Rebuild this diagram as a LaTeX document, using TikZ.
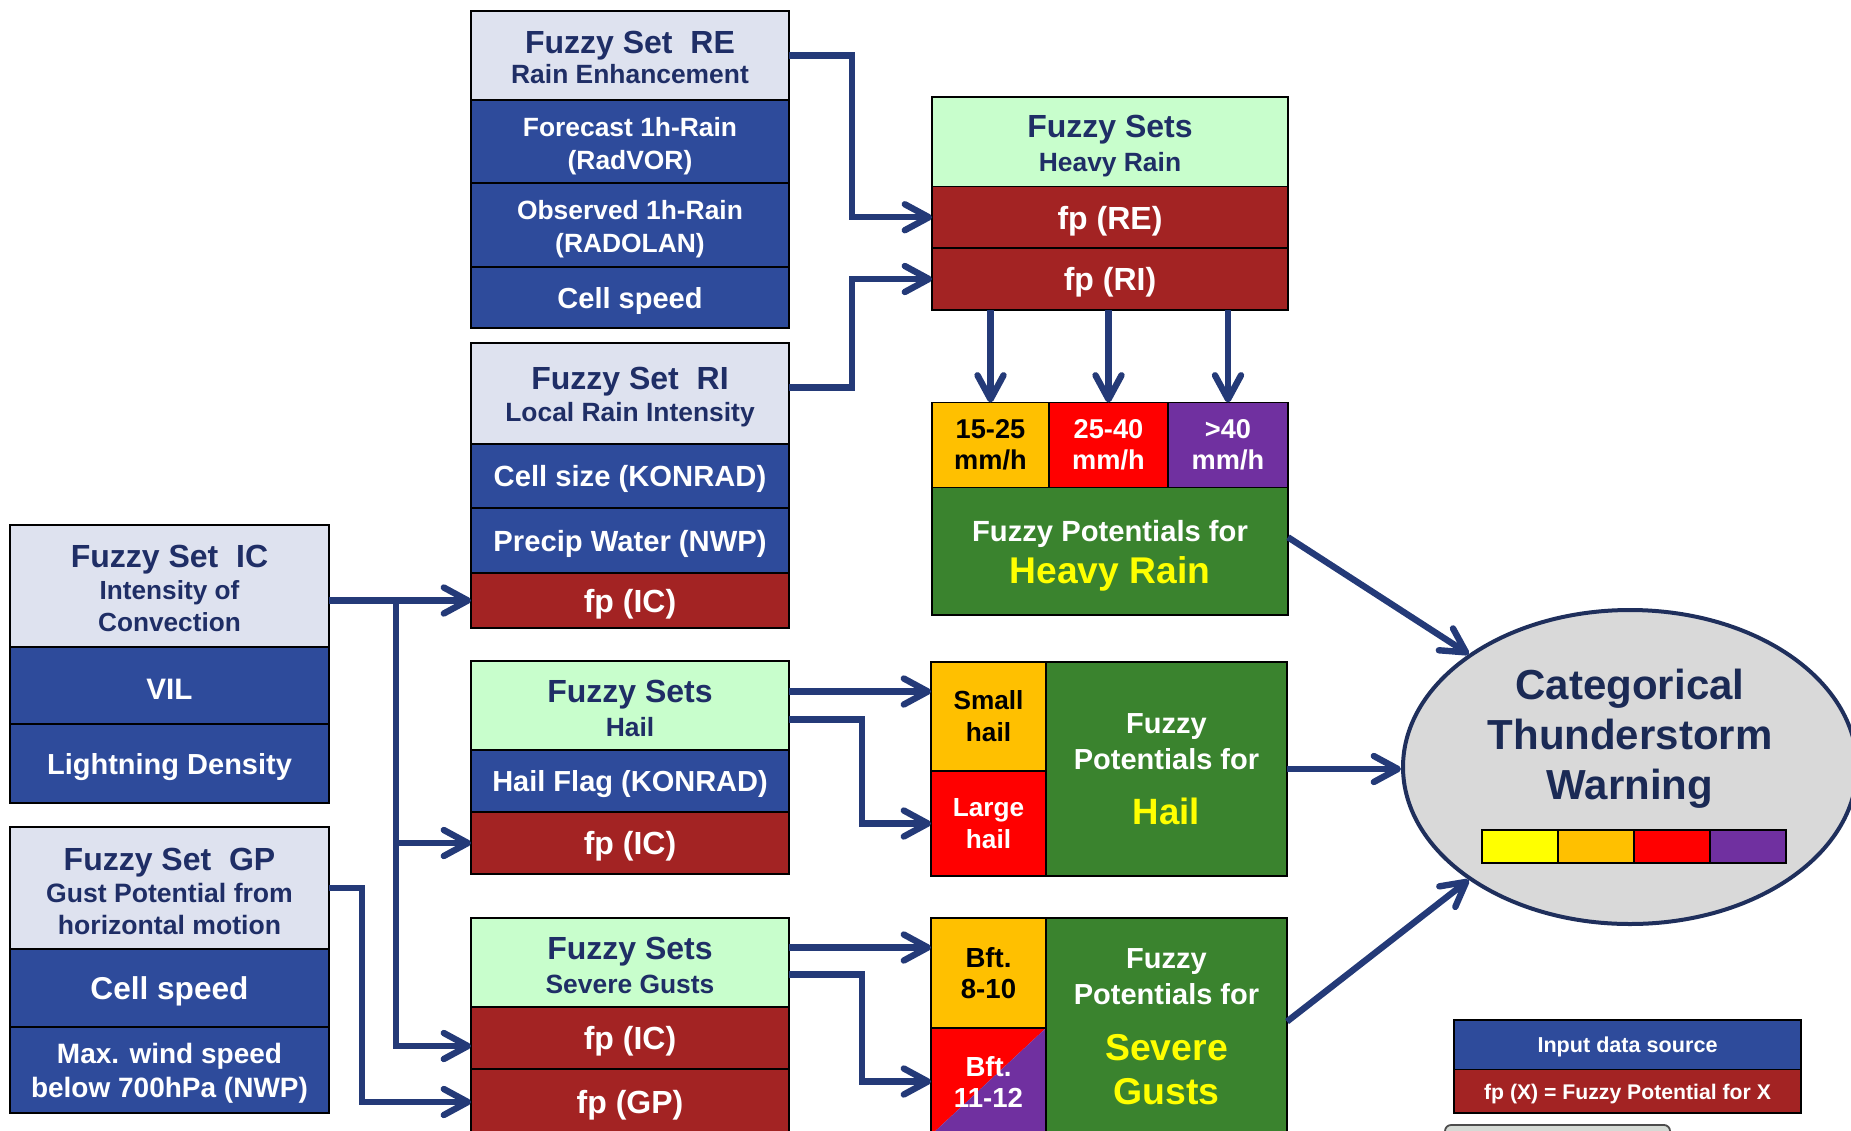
\documentclass[tikz,border=0pt]{standalone}
\usepackage{fontspec}
\setmainfont{Liberation Sans}
\usetikzlibrary{arrows.meta,shapes.geometric,backgrounds}
\definecolor{hdrgray}{HTML}{DEE2EF}
\definecolor{hdrgreen}{HTML}{C8FECC}
\definecolor{inblue}{HTML}{2E4B9B}
\definecolor{fpred}{HTML}{A32323}
\definecolor{potgreen}{HTML}{3A832E}
\definecolor{corange}{HTML}{FFC000}
\definecolor{cred}{HTML}{FF0000}
\definecolor{cpurple}{HTML}{7030A0}
\definecolor{cyellow}{HTML}{FFFF00}
\definecolor{navytext}{HTML}{1F2E66}
\definecolor{arrcol}{HTML}{243A78}
\definecolor{ellfill}{HTML}{D9D9D9}
\definecolor{ellborder}{HTML}{1F2F5C}
\definecolor{elltext}{HTML}{1B2A55}
\definecolor{slvfill}{HTML}{D5DAD5}
\newcommand\fs[2]{\fontsize{#1}{#2}\selectfont}
\newcommand\pad[1]{\rule{0pt}{#1}}
\begin{document}
\begin{tikzpicture}[x=0.5pt,y=-0.5pt,
  cell/.style={draw=black,line width=0.9pt,anchor=north west,inner sep=0pt,outer sep=0pt,align=center,
    execute at begin node={\rule{0pt}{0.95em}}},
  hdr/.style={cell,fill=hdrgray,text=navytext},
  ghdr/.style={cell,fill=hdrgreen,text=navytext},
  inp/.style={cell,fill=inblue,text=white},
  fpc/.style={cell,fill=fpred,text=white,font=\bfseries\fs{16}{18}},
  pot/.style={cell,fill=potgreen,text=white},
  arr/.style={draw=arrcol,line width=3.2pt,-{Straight Barb[length=12pt,width=13pt,round]}},
  wcol/.style={minimum width=159pt},
  hcol/.style={minimum width=178pt},
]
\useasboundingbox (0,0) rectangle (1851,1130);

% ---------- RE ----------
\node[hdr,wcol,minimum height=44.5pt,font=\bfseries\fs{13.2}{15}] (REh) at (471,11) {{\fs{16}{15}\pad{13.5pt}Fuzzy Set\ \ RE}\\Rain Enhancement};
\node[inp,wcol,minimum height=41.5pt,font=\bfseries\fs{13.2}{16.5}] (REf) at (471,100) {\pad{14.4pt}Forecast 1h-Rain\\(RadVOR)};
\node[inp,wcol,minimum height=42pt,font=\bfseries\fs{13.2}{16.5}] (REo) at (471,183) {\pad{14pt}Observed 1h-Rain\\(RADOLAN)};
\node[inp,wcol,minimum height=30.5pt,font=\bfseries\fs{14.5}{16}] (REc) at (471,267) {Cell speed};

% ---------- RI ----------
\node[hdr,wcol,minimum height=50.5pt,font=\bfseries\fs{13.2}{16}] (RIh) at (471,343) {{\fs{16}{16}\pad{15pt}Fuzzy Set\ \ RI}\\Local Rain Intensity};
\node[inp,wcol,minimum height=32pt,font=\bfseries\fs{14.6}{16}] (RIs) at (471,444) {Cell size (KONRAD)};
\node[inp,wcol,minimum height=32.5pt,font=\bfseries\fs{14.6}{16}] (RIp) at (471,508) {Precip Water (NWP)};
\node[fpc,wcol,minimum height=27.5pt] (RIfp) at (471,573) {fp (IC)};

% ---------- IC ----------
\node[hdr,minimum width=159.5pt,minimum height=61pt,font=\bfseries\fs{13.1}{16}] (ICh) at (10,525) {{\fs{16}{16}\pad{13.8pt}Fuzzy Set\ \ IC}\\Intensity of\\Convection};
\node[inp,minimum width=159.5pt,minimum height=38.5pt,font=\bfseries\fs{14.8}{16}] (ICv) at (10,647) {VIL};
\node[inp,minimum width=159.5pt,minimum height=39.5pt,font=\bfseries\fs{14.5}{16}] (ICl) at (10,724) {Lightning Density};

% ---------- GP ----------
\node[hdr,minimum width=159.5pt,minimum height=61pt,font=\bfseries\fs{13.3}{16}] (GPh) at (10,827) {{\fs{16}{16}\pad{14.5pt}Fuzzy Set\ \ GP}\\Gust Potential from\\horizontal motion};
\node[inp,minimum width=159.5pt,minimum height=39pt,font=\bfseries\fs{15.8}{17}] (GPc) at (10,949) {Cell speed};
\node[inp,minimum width=159.5pt,minimum height=43pt,font=\bfseries\fs{14}{17}] (GPm) at (10,1027) {\pad{13.2pt}Max. wind speed\\below 700hPa (NWP)};

% ---------- Hail sets ----------
\node[ghdr,wcol,minimum height=44.5pt,font=\bfseries\fs{13.2}{17}] (Hh) at (471,661) {{\fs{16}{17}\pad{14.3pt}Fuzzy Sets}\\Hail};
\node[inp,wcol,minimum height=31pt,font=\bfseries\fs{14.5}{16}] (Hf) at (471,750) {Hail Flag (KONRAD)};
\node[fpc,wcol,minimum height=31pt] (Hic) at (471,812) {fp (IC)};

% ---------- Severe gust sets ----------
\node[ghdr,wcol,minimum height=44.5pt,font=\bfseries\fs{13.2}{17}] (SGh) at (471,918) {{\fs{16}{17}\pad{14pt}Fuzzy Sets}\\Severe Gusts};
\node[fpc,wcol,minimum height=31pt] (SGic) at (471,1007) {fp (IC)};
\node[fpc,wcol,minimum height=33pt] (SGgp) at (471,1069) {fp (GP)};

% ---------- Heavy rain ----------
\node[ghdr,hcol,minimum height=44.75pt,font=\bfseries\fs{13.2}{17}] (HRh) at (932,97) {{\fs{16}{17}\pad{15pt}Fuzzy Sets}\\Heavy Rain};
\node[fpc,hcol,minimum height=30.75pt] (fpRE) at (932,186.5) {fp (RE)};
\node[fpc,hcol,minimum height=31pt] (fpRI) at (932,248) {fp (RI)};
\node[cell,fill=corange,text=black,minimum width=58.5pt,minimum height=42.5pt,font=\bfseries\fs{13.6}{15.5}] (cat1) at (932,402.5) {15-25\\mm/h};
\node[cell,fill=cred,text=white,minimum width=59.5pt,minimum height=42.5pt,font=\bfseries\fs{13.6}{15.5}] (cat2) at (1049,402.5) {25-40\\mm/h};
\node[cell,fill=cpurple,text=white,minimum width=60pt,minimum height=42.5pt,font=\bfseries\fs{13.6}{15.5}] (cat3) at (1168,402.5) {>40\\mm/h};
\node[pot,hcol,minimum height=63.75pt,font=\bfseries\fs{14.6}{21}] (HRg) at (932,487.5) {\pad{15.5pt}Fuzzy Potentials for\\{\color{cyellow}\fs{18.6}{21}Heavy Rain}};

% ---------- Hail potentials ----------
\node[cell,fill=corange,text=black,minimum width=57.5pt,minimum height=54.5pt,font=\bfseries\fs{13.1}{16}] (Hs) at (931,662) {Small\\hail};
\node[cell,fill=cred,text=white,minimum width=57.5pt,minimum height=52.5pt,font=\bfseries\fs{13.1}{16}] (Hl) at (931,771) {Large\\hail};
\node[pot,minimum width=120.5pt,minimum height=107pt,font=\bfseries\fs{14.5}{18}] (Hg) at (1046,662) {Fuzzy\\Potentials for\\[9.5pt]{\color{cyellow}\fs{18.3}{18}Hail}};

% ---------- Gust potentials ----------
\node[cell,fill=corange,text=black,minimum width=57.5pt,minimum height=55pt,font=\bfseries\fs{13.8}{15.5}] (Bft1) at (931,918) {Bft.\\8-10};
\node[cell,text=white,minimum width=57.5pt,minimum height=53.5pt,font=\bfseries\fs{13.8}{15.5}] (Bft2) at (931,1028) {Bft.\\11-12};
\begin{pgfonlayer}{background}
\fill[cred] (Bft2.north west) -- (Bft2.north east) -- (Bft2.south west) -- cycle;
\fill[cpurple] (Bft2.north east) -- (Bft2.south east) -- (Bft2.south west) -- cycle;
\end{pgfonlayer}
\node[pot,minimum width=120.5pt,minimum height=108.5pt,font=\bfseries\fs{14.5}{18}] (SGg) at (1046,918) {Fuzzy\\Potentials for\\[10pt]{\color{cyellow}\fs{18.7}{18}Severe}\\[4pt]{\color{cyellow}\fs{18.7}{18}Gusts}};

% ---------- Warning ellipse ----------
\node[ellipse,draw=ellborder,line width=2pt,fill=ellfill,minimum width=227pt,minimum height=157pt,inner sep=0pt] (ell) at (1630,767) {};
\node[align=center,text=elltext,font=\bfseries\fs{21}{25},inner sep=0pt] (ellt) at (1630,739) {Categorical\\Thunderstorm\\Warning};
\node[cell,fill=cyellow,minimum width=38pt,minimum height=16.5pt,line width=1.1pt] (cb1) at (1482,830) {};
\node[cell,fill=corange,minimum width=38pt,minimum height=16.5pt,line width=1.1pt] (cb2) at (1558,830) {};
\node[cell,fill=cred,minimum width=38pt,minimum height=16.5pt,line width=1.1pt] (cb3) at (1634,830) {};
\node[cell,fill=cpurple,minimum width=38pt,minimum height=16.5pt,line width=1.1pt] (cb4) at (1710,830) {};

% ---------- Legend ----------
\node[inp,minimum width=173.5pt,minimum height=24.75pt,font=\bfseries\fs{10.8}{12}] (legB) at (1454,1020) {Input data source};
\node[fpc,minimum width=173.5pt,minimum height=21.75pt,font=\bfseries\fs{10.6}{12}] (legR) at (1454,1069.5) {fp (X) = Fuzzy Potential for X};
\node[cell,fill=slvfill,draw=black!70,rounded corners=3pt,minimum width=112.5pt,minimum height=12pt] (legG) at (1445,1125) {};

% ---------- Connectors ----------
\draw[arr] (REh.east) -- ++(63,0) |- (fpRE.west);
\draw[arr] ([yshift=3pt]RIh.east) -- ++(63,0) |- (fpRI.west);
\coordinate (jn) at (396,601);
\draw[arr] (ICh.east |- RIfp.west) -- (RIfp.west);
\draw[arr] (jn |- RIfp.west) |- (Hic.west);
\draw[arr] (jn |- RIfp.west) |- ([yshift=-4pt]SGic.west);
\draw[arr] (GPh.east) -- ++(33,0) |- (SGgp.west);
\draw[arr] ([yshift=7pt]Hh.east) -- ([yshift=7pt]Hh.east -| Hs.west);
\draw[arr] ([yshift=-7pt]Hh.east) -- ++(73,0) |- (Hl.west);
\draw[arr] ([yshift=7.5pt]SGh.east) -- ([yshift=7.5pt]SGh.east -| Bft1.west);
\draw[arr] ([yshift=-6pt]SGh.east) -- ++(73,0) |- (Bft2.west);
\foreach \c in {cat1,cat2,cat3} \draw[arr] (\c.north |- fpRI.south) -- (\c.north);
\draw[arr] ([yshift=7pt]HRg.east) -- (ell.145);
\draw[arr] (Hg.east) -- (Hg.east -| ell.west);
\draw[arr] ([yshift=2.5pt]SGg.east) -- (ell.215);
\end{tikzpicture}
\end{document}
